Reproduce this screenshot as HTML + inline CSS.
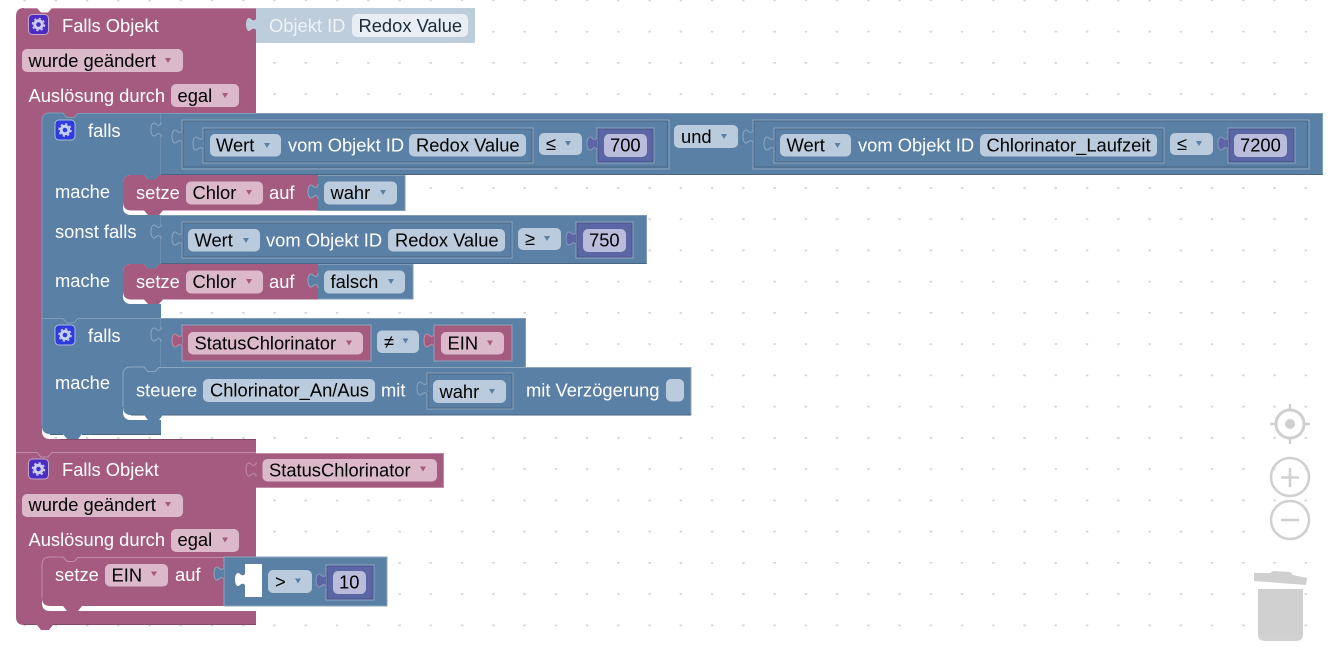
<!DOCTYPE html>
<html><head><meta charset="utf-8"><style>
html,body{margin:0;padding:0;background:#fff;width:1332px;height:650px;overflow:hidden}
svg{display:block}
text{font-family:"Liberation Sans",sans-serif;font-size:18.33px}
.w{fill:#fff}.k{fill:#000}
.bl{fill:#5b80a5}.pk{fill:#a55b80}.pu{fill:#5b67a5}
.fb{fill:#b9cbdc}.fp{fill:#dbb9ca}.fu{fill:#b9bcdb}
.cb{fill:#5b80a5}.cp{fill:#a55b80}
</style></head><body>
<svg width="1332" height="650" viewBox="0 0 1332 650" xmlns="http://www.w3.org/2000/svg">
<defs>
<pattern id="g" x="24" y="-0.5" width="31.25" height="31.25" patternUnits="userSpaceOnUse"><circle cx="0.6" cy="0.6" r="1.3" fill="#d4d4d4"/><circle cx="31.85" cy="0.6" r="1.3" fill="#d4d4d4"/></pattern>
<path id="t" d="M0 1V3Q-2 5.500-4.500 3.500C-7.500 0-10 3-10 8.500C-10 14-7.500 17-4.500 13.500Q-2 11.500 0 14V16"/>
<polygon id="c" points="-3,-2.5 3,-2.5 0,2.5"/>
</defs>
<rect width="1332" height="650" fill="url(#g)"/>

<!-- hat blocks -->
<path class="pk" d="M16 16Q16 8 24 8H37L41 12.5H48L52 8H256V113H78L74 117.500H67L63 113H50Q42 113 42 121V431Q42 439 50 439H256V453H256V557H78L74 561.500H67L63 557H50Q42 557 42 565V603Q42 611 50 611H256V625H53L49 630H41L37 625H24Q16 625 16 617Z"/>
<path d="M16 452.5H37L41 457H48L52 452.5H256" fill="none" stroke="#c08da6" stroke-width="1"/>
<path d="M24 8.5H37M52 8.5H256" stroke="#c08da6" stroke-width="1" fill="none"/>
<path d="M24 624.5H37M53 624.5H256M256 439.5H60" stroke="#844968" stroke-width="1" fill="none"/>

<!-- Objekt ID shadow -->
<rect x="256" y="8" width="219" height="35" fill="#bdcddc"/>
<use href="#t" x="256" y="16" fill="#bdcddc"/>
<text x="269" y="32" fill="#eef3f7">Objekt ID</text>
<rect x="352" y="14" width="116" height="23" rx="5" fill="#e8eef4"/>
<text x="358.500" y="32" fill="#1c2b3a">Redox Value</text>

<!-- first head -->
<rect x="28.500" y="14.500" width="20" height="20" rx="4" fill="#4a2cc4" stroke="#c8a8c8"/>
<g fill="none" stroke="#c9cdf2"><circle cx="38.500" cy="24.500" r="3.800" stroke-width="3"/><circle cx="38.500" cy="24.500" r="6" stroke-width="1.500" stroke-dasharray="2.300 2.400"/></g>
<text class="w" x="62" y="32">Falls Objekt</text>
<rect class="fp" x="22" y="49" width="161" height="23" rx="5"/>
<text class="k" x="28.500" y="67">wurde geändert</text><use class="cp" href="#c" x="168" y="60.500"/>
<text class="w" x="28.500" y="102">Auslösung durch</text>
<rect class="fp" x="171" y="84" width="68" height="23" rx="5"/>
<text class="k" x="177.500" y="102">egal</text><use class="cp" href="#c" x="225" y="95.500"/>

<!-- falls block -->
<path class="bl" d="M42 121Q42 113 50 113H63L67 117.500H74L78 113H161V175H159L155 179.500H148L144 175H131Q123 175 123 183V207Q123 215 131 215H161V264H159L155 268.500H148L144 264H131Q123 264 123 272V296Q123 304 131 304H161V318V367H159L155 371.500H148L144 367H131Q123 367 123 375V412Q123 420 131 420H161V434H82L78 439H67L63 434H50Q42 434 42 426Z"/>
<path d="M42 121Q42 113 50 113H63L67 117.500H74L78 113.500H161M42 318.500H63L67 323H74L78 318.500H161M161 113V175M161 215V264M161 318V367M42 121V426" fill="none" stroke="#7f9cb9"/>
<path d="M50 434.500H63M82 434.500H161" stroke="#496684" fill="none"/>

<rect x="55" y="120" width="20" height="20" rx="4" fill="#2d3be0" stroke="#a9bfd6"/>
<g fill="none" stroke="#c4d0f5"><circle cx="65" cy="130" r="3.800" stroke-width="3"/><circle cx="65" cy="130" r="6" stroke-width="1.500" stroke-dasharray="2.300 2.400"/></g>
<text class="w" x="88" y="137">falls</text>
<text class="w" x="55" y="198">mache</text>
<text class="w" x="55" y="238">sonst falls</text>
<text class="w" x="55" y="287">mache</text>
<rect x="55" y="325" width="20" height="20" rx="4" fill="#2d3be0" stroke="#a9bfd6"/>
<g fill="none" stroke="#c4d0f5"><circle cx="65" cy="335" r="3.800" stroke-width="3"/><circle cx="65" cy="335" r="6" stroke-width="1.500" stroke-dasharray="2.300 2.400"/></g>
<text class="w" x="88" y="342">falls</text>
<text class="w" x="55" y="389">mache</text>

<!-- AND value row -->
<rect class="bl" x="161" y="113" width="1162" height="62"/>
<path d="M161 113.500H1322.500V175" fill="none" stroke="#7f9cb9"/>
<path d="M161 174.500H1322.500" fill="none" stroke="#496684"/>
<use class="bl" href="#t" x="161" y="121" stroke="#8ca6c0"/>
<rect class="bl" x="182" y="120" width="487" height="49" stroke="#8ca6c0"/>
<rect x="183" y="121" width="484.500" height="46" fill="none" stroke="#496684"/>
<use class="bl" href="#t" x="182" y="128" stroke="#8ca6c0"/>
<rect class="bl" x="203" y="128" width="330" height="35" stroke="#8ca6c0"/>
<rect x="204" y="129" width="328" height="33" fill="none" stroke="#496684"/>
<use class="bl" href="#t" x="203" y="135" stroke="#8ca6c0"/>
<rect class="fb" x="210" y="134" width="71" height="22.500" rx="5"/>
<text class="k" x="216" y="151.500">Wert</text><use class="cb" href="#c" x="267" y="145.500"/>
<text class="w" x="288" y="151.500">vom Objekt ID</text>
<rect class="fb" x="409" y="134" width="117" height="22.500" rx="5"/>
<text class="k" x="416" y="151.500">Redox Value</text>
<rect class="fb" x="539" y="133" width="43" height="22" rx="5"/>
<text class="k" x="546" y="150">≤</text><use class="cb" href="#c" x="568" y="143.500"/>
<rect class="pu" x="597" y="128" width="57" height="35" stroke="#8ca6c0"/>
<rect x="598" y="129" width="55" height="33" fill="none" stroke="#47508a"/>
<use class="pu" href="#t" x="597" y="135" stroke="#8d95c0"/>
<rect class="fu" x="604" y="134" width="43" height="23" rx="5"/>
<text class="k" x="610" y="151.500">700</text>
<rect class="fb" x="674" y="125" width="64" height="23" rx="5"/>
<text class="k" x="681" y="143">und</text><use class="cb" href="#c" x="724" y="136.500"/>
<rect class="bl" x="753" y="120" width="556" height="49" stroke="#8ca6c0"/>
<rect x="754" y="121" width="553.500" height="46" fill="none" stroke="#496684"/>
<use class="bl" href="#t" x="753" y="128" stroke="#8ca6c0"/>
<rect class="bl" x="774" y="128" width="390" height="35" stroke="#8ca6c0"/>
<rect x="775" y="129" width="388" height="33" fill="none" stroke="#496684"/>
<use class="bl" href="#t" x="774" y="135" stroke="#8ca6c0"/>
<rect class="fb" x="780" y="134" width="71" height="22.500" rx="5"/>
<text class="k" x="786.500" y="151.500">Wert</text><use class="cb" href="#c" x="837.500" y="145.500"/>
<text class="w" x="858" y="151.500">vom Objekt ID</text>
<rect class="fb" x="980" y="134" width="177" height="22.500" rx="5"/>
<text class="k" x="986.500" y="151.500">Chlorinator_Laufzeit</text>
<rect class="fb" x="1170" y="133" width="43" height="22" rx="5"/>
<text class="k" x="1177" y="150">≤</text><use class="cb" href="#c" x="1199" y="143.500"/>
<rect class="pu" x="1228" y="128" width="67" height="35" stroke="#8ca6c0"/>
<rect x="1229" y="129" width="65" height="33" fill="none" stroke="#47508a"/>
<use class="pu" href="#t" x="1228" y="135" stroke="#8d95c0"/>
<rect class="fu" x="1234" y="134" width="53" height="23" rx="5"/>
<text class="k" x="1240" y="151.500">7200</text>

<!-- setze Chlor 1 -->
<rect class="bl" x="318" y="175" width="87" height="35.500"/>
<path d="M318 175.500H405V210.500H318" fill="none" stroke="#7f9cb9"/>
<path class="pk" d="M123 183Q123 175 131 175H144L148 179.500H155L159 175H318V210.500H163L159 215H148L144 210.500H131Q123 210.500 123 202Z"/>
<use class="bl" href="#t" x="318" y="183" stroke="#8ca6c0"/>
<text class="w" x="136" y="199">setze</text>
<rect class="fp" x="186" y="181.500" width="77" height="23" rx="5"/>
<text class="k" x="192.500" y="199">Chlor</text><use class="cp" href="#c" x="249" y="192.500"/>
<text class="w" x="269" y="199">auf</text>
<rect class="fb" x="324" y="181.500" width="73" height="23" rx="5"/>
<text class="k" x="330.500" y="199">wahr</text><use class="cb" href="#c" x="383" y="192.500"/>

<!-- sonst falls row -->
<rect class="bl" x="161" y="215" width="486" height="49"/>
<path d="M161 215.500H646.500V264" fill="none" stroke="#7f9cb9"/>
<path d="M161 263.500H646.500" fill="none" stroke="#496684"/>
<use class="bl" href="#t" x="161" y="223" stroke="#8ca6c0"/>
<rect class="bl" x="182" y="222" width="330" height="36" stroke="#8ca6c0"/>
<rect x="183" y="223" width="328" height="34" fill="none" stroke="#496684"/>
<use class="bl" href="#t" x="182" y="230" stroke="#8ca6c0"/>
<rect class="fb" x="188" y="229" width="72" height="22.500" rx="5"/>
<text class="k" x="194.500" y="246.500">Wert</text><use class="cb" href="#c" x="246" y="240.500"/>
<text class="w" x="266" y="246.500">vom Objekt ID</text>
<rect class="fb" x="388" y="229" width="117" height="22.500" rx="5"/>
<text class="k" x="395" y="246.500">Redox Value</text>
<rect class="fb" x="518" y="228" width="43" height="22" rx="5"/>
<text class="k" x="525" y="245">≥</text><use class="cb" href="#c" x="547" y="238.500"/>
<rect class="pu" x="576" y="222" width="57" height="36" stroke="#8ca6c0"/>
<rect x="577" y="223" width="55" height="34" fill="none" stroke="#47508a"/>
<use class="pu" href="#t" x="576" y="230" stroke="#8d95c0"/>
<rect class="fu" x="583" y="229" width="43" height="23" rx="5"/>
<text class="k" x="589" y="246.500">750</text>

<!-- setze Chlor 2 -->
<rect class="bl" x="318" y="264" width="95" height="35"/>
<path d="M318 264.500H413V299H318" fill="none" stroke="#7f9cb9"/>
<path class="pk" d="M123 272Q123 264 131 264H144L148 268.500H155L159 264H318V299.500H163L159 304H148L144 299.500H131Q123 299.500 123 291Z"/>
<use class="bl" href="#t" x="318" y="272" stroke="#8ca6c0"/>
<text class="w" x="136" y="288">setze</text>
<rect class="fp" x="186" y="270.500" width="77" height="23" rx="5"/>
<text class="k" x="192.500" y="288">Chlor</text><use class="cp" href="#c" x="249" y="281.500"/>
<text class="w" x="269" y="288">auf</text>
<rect class="fb" x="324" y="270.500" width="81" height="23" rx="5"/>
<text class="k" x="330.500" y="288">falsch</text><use class="cb" href="#c" x="391" y="281.500"/>

<!-- falls 2 row -->
<rect class="bl" x="161" y="318" width="365" height="49"/>
<path d="M161 318.500H525.500V367" fill="none" stroke="#7f9cb9"/>
<use class="bl" href="#t" x="161" y="326" stroke="#8ca6c0"/>
<rect class="pk" x="182" y="325" width="189" height="36" stroke="#8ca6c0"/>
<use class="pk" href="#t" x="182" y="332" stroke="#c08da6"/>
<rect class="fp" x="188" y="332" width="175" height="22.500" rx="5"/>
<text class="k" x="194.500" y="349.500">StatusChlorinator</text><use class="cp" href="#c" x="349" y="343"/>
<rect class="fb" x="377" y="330.500" width="42" height="22.500" rx="5"/>
<text class="k" x="384" y="348">≠</text><use class="cb" href="#c" x="405.500" y="341"/>
<rect class="pk" x="434" y="325" width="78" height="36" stroke="#8ca6c0"/>
<use class="pk" href="#t" x="434" y="332" stroke="#c08da6"/>
<rect class="fp" x="441" y="332" width="63" height="22.500" rx="5"/>
<text class="k" x="447.500" y="349.500">EIN</text><use class="cp" href="#c" x="490" y="343"/>

<!-- steuere -->
<path class="bl" d="M123 375Q123 367 131 367H144L148 371.500H155L159 367H691V415H163L159 420H148L144 415H131Q123 415 123 407Z"/>
<path d="M123 407V375Q123 367 131 367H144L148 371.500H155L159 367.500H691V415" fill="none" stroke="#8ca6c0"/>
<path d="M131 415H144M163 415H691" stroke="#496684" fill="none"/>
<text class="w" x="136" y="396.500">steuere</text>
<rect class="fb" x="203" y="379" width="172" height="23" rx="5"/>
<text class="k" x="210" y="396.500">Chlorinator_An/Aus</text>
<text class="w" x="381" y="396.500">mit</text>
<rect class="bl" x="427" y="373" width="86" height="36" stroke="#8ca6c0"/>
<rect x="428" y="374" width="84" height="34" fill="none" stroke="#496684"/>
<use class="bl" href="#t" x="427" y="380" stroke="#8ca6c0"/>
<rect class="fb" x="433" y="380" width="73" height="23" rx="5"/>
<text class="k" x="439.500" y="398">wahr</text><use class="cb" href="#c" x="492" y="391.500"/>
<text class="w" x="526" y="396.500">mit Verzögerung</text>
<rect class="fb" x="666" y="379" width="18" height="22.500" rx="5"/>

<!-- second head -->
<rect x="28.500" y="459" width="20" height="20" rx="4" fill="#4a2cc4" stroke="#c8a8c8"/>
<g fill="none" stroke="#c9cdf2"><circle cx="38.500" cy="469" r="3.800" stroke-width="3"/><circle cx="38.500" cy="469" r="6" stroke-width="1.500" stroke-dasharray="2.300 2.400"/></g>
<text class="w" x="62" y="476">Falls Objekt</text>
<rect class="pk" x="256" y="453" width="188" height="34.500"/>
<path d="M256 453.500H443.500V487.500H256" fill="none" stroke="#c08da6"/>
<use class="pk" href="#t" x="256" y="461" stroke="#c08da6"/>
<rect class="fp" x="262.500" y="459" width="174.500" height="22.500" rx="5"/>
<text class="k" x="269" y="476.500">StatusChlorinator</text><use class="cp" href="#c" x="423" y="469"/>
<rect class="fp" x="22" y="494" width="161" height="23" rx="5"/>
<text class="k" x="28.500" y="511">wurde geändert</text><use class="cp" href="#c" x="168" y="504.500"/>
<text class="w" x="28.500" y="546">Auslösung durch</text>
<rect class="fp" x="171" y="529" width="68" height="23" rx="5"/>
<text class="k" x="177.500" y="546">egal</text><use class="cp" href="#c" x="225" y="540"/>

<!-- setze EIN -->
<path class="pk" d="M42 565Q42 557 50 557H63L67 561.500H74L78 557H224V606H82L78 611H67L63 606H50Q42 606 42 598Z"/>
<path d="M42 598V565Q42 557 50 557H63L67 561.500H74L78 557.500H224" fill="none" stroke="#c08da6"/>
<text class="w" x="55" y="581">setze</text>
<rect class="fp" x="105" y="564" width="63" height="22.500" rx="5"/>
<text class="k" x="111.500" y="581.500">EIN</text><use class="cp" href="#c" x="154" y="574"/>
<text class="w" x="175" y="581">auf</text>
<rect class="bl" x="224" y="557" width="163" height="49" stroke="#8ca6c0"/>
<use class="bl" href="#t" x="224" y="565" stroke="#8ca6c0"/>
<rect x="245" y="564" width="17" height="33" fill="#fff"/>
<use href="#t" x="245" y="571" fill="#fff"/>
<rect class="fb" x="268" y="570" width="44" height="23" rx="5"/>
<text class="k" x="275" y="588">&gt;</text><use class="cb" href="#c" x="298" y="581"/>
<rect class="pu" x="326" y="565" width="48" height="35" stroke="#8ca6c0"/>
<rect x="327" y="566" width="46" height="33" fill="none" stroke="#47508a"/>
<use class="pu" href="#t" x="326" y="572" stroke="#8d95c0"/>
<rect class="fu" x="333" y="571" width="33" height="23" rx="5"/>
<text class="k" x="339" y="588.500">10</text>

<!-- controls -->
<g opacity=".9">
<circle cx="1290" cy="424" r="14" fill="none" stroke="#ccc" stroke-width="3"/>
<circle cx="1290" cy="424" r="5" fill="#ccc"/>
<path d="M1290 404V410M1290 438V444M1270 424H1276M1304 424H1310" stroke="#ccc" stroke-width="2.500"/>
<circle cx="1290" cy="477" r="19" fill="#fff" fill-opacity=".3" stroke="#ccc" stroke-width="2.500"/>
<path d="M1281 477.500H1299M1290 468V487" stroke="#ccc" stroke-width="2.500"/>
<circle cx="1290" cy="520" r="19" fill="#fff" fill-opacity=".3" stroke="#ccc" stroke-width="2.500"/>
<path d="M1281 520H1299" stroke="#ccc" stroke-width="2.500"/>
<polygon points="1254,573 1270,573 1273,571 1290,572 1293,575 1307,578 1306,585 1254,581" fill="#ccc"/>
<path d="M1258 589H1303V634Q1303 641 1296 641H1265Q1258 641 1258 634Z" fill="#ccc"/>
</g>
</svg>
</body></html>
